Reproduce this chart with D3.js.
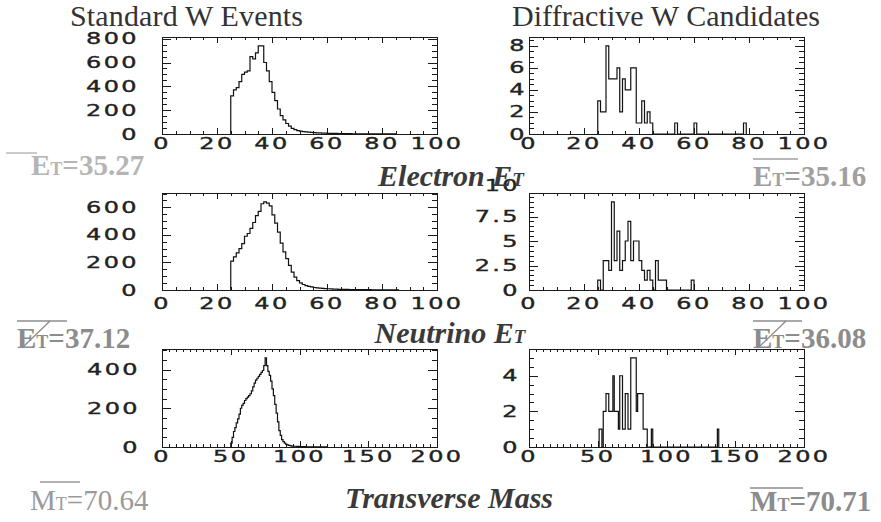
<!DOCTYPE html>
<html><head><meta charset="utf-8">
<script src="https://cdn.jsdelivr.net/npm/d3@7"></script>
<style>body{margin:0;background:#fff;}</style>
</head><body>
<svg id="c" width="881" height="522"></svg>
<script>
// ---------------- data ----------------
// Standard W events, electron ET, 1 GeV bins starting at 25 GeV
const stdElectronEtStart = 25;
const stdElectronEt = [320,370,390,440,500,520,530,650,630,680,740,740,600,530,440,350,280,210,155,118,
  88,66,48,36,28,24,20,17,15,13,11,10,9,8,7,6,6,5,5,4,4,3,3,3,2,2,2,2,1,1,1,1,1,1,1,1,1,1,1,1];
// Standard W events, neutrino ET, 1 GeV bins starting at 25 GeV
const stdNeutrinoEtStart = 25;
const stdNeutrinoEt = [210,240,270,300,337,390,410,447,490,540,570,626,640,630,610,545,485,420,340,276,
  227,178,130,93,68,52,40,32,26,22,18,16,14,12,10,9,8,7,6,5,5,4,4,3,3,3,2,2,2,2,2,1,1,1,1,1,1,1,1,1,1];
// Standard W events, transverse mass, 1 GeV bins starting at 50 GeV
const stdMassStart = 50;
const stdMass = [20,50,80,100,125,145,170,200,215,225,240,250,258,265,275,290,310,330,345,355,
  365,375,385,395,420,460,420,390,370,340,300,265,220,175,130,85,60,38,28,20,14,11,8,7,5,5,4,4,3,3,
  2,2,2,2,2,1,1,1,1,1,1,1,1,1,1,1,1,1,1,1];
// Diffractive W candidates: [bin low edge, count]
const diffElectronEt = [[25,3],[26,2],[27,2],[28,8],[29,5],[30,5],[31,5],[32,6],[33,2],[34,5],[35,4],[36,4],
  [37,6],[38,6],[39,1],[40,1],[41,3],[42,1],[43,2],[44,1],[53,1],[60,1],[78,1]];
const diffNeutrinoEt = [[25,1],[27,3],[28,3],[29,2],[30,9],[31,3],[32,6],[33,2],[34,3],[35,5],[36,7],[37,3],
  [38,5],[39,5],[40,3],[41,2],[42,1],[43,2],[44,1],[46,3],[47,1],[48,1],[49,1],[59,1]];
const diffMass = [[51,1],[52,1],[54,2],[55,2],[56,3],[57,3],[58,2],[59,2],[60,2],[61,4],[62,2],[63,2],[64,2],
  [65,1],[66,4],[67,4],[68,1],[69,1],[70,3],[71,3],[72,1],[73,1],[74,5],[75,5],[76,5],[77,5],[78,2],
  [79,3],[80,3],[81,3],[82,3],[83,1],[84,1],[85,1],[89,1],[137,1]];
// tick labels
const etXLabels = [0,20,40,60,80,100];
const massXLabels = [0,50,100,150,200];
const stdElectronYLabels = [0,200,400,600,800];
const stdNeutrinoYLabels = [0,200,400,600];
const stdMassYLabels = [0,200,400];
const diffElectronYLabels = ["0","2","4","6","8"];
const diffNeutrinoYLabels = ["0","2.5","5","7.5","10"];
const diffMassYLabels = ["0","2","4"];
// texts
const columnTitles = ["Standard W Events","Diffractive W Candidates"];
const rowTitles = ["Electron ","Neutrino ","Transverse Mass"];
const meanValues = [["35.27","35.16"],["37.12","36.08"],["70.64","70.71"]];

// ---------------- helpers ----------------
function denseBins(start, counts){ return counts.map((n,i)=>({x0:start+i, x1:start+i+1, n})); }
function pairBins(pairs){
  const lo = pairs[0][0], hi = pairs[pairs.length-1][0];
  const m = new Map(pairs);
  return d3.range(lo, hi+1).map(b=>({x0:b, x1:b+1, n:m.get(b)||0}));
}

const svg = d3.select("#c");
const serif = "'Liberation Serif','Times New Roman',serif";
const colX = [[162,437],[529,804]];
const rowY = [[37,134],[193,290],[349,447]];
const xLabelOff = [15,19,15];
const yLabelRight = [[139,139,140],[527,520,520]];

const panels = [
  {r:0,c:0,bins:denseBins(stdElectronEtStart,stdElectronEt),xMax:100,xMaj:20,xMin:5,yMaj:200,yMin:50,xl:etXLabels,yl:stdElectronYLabels},
  {r:0,c:1,bins:pairBins(diffElectronEt),xMax:100,xMaj:20,xMin:5,yMaj:2,yMin:0.5,xl:etXLabels,yl:diffElectronYLabels},
  {r:1,c:0,bins:denseBins(stdNeutrinoEtStart,stdNeutrinoEt),xMax:100,xMaj:20,xMin:5,yMaj:200,yMin:50,xl:etXLabels,yl:stdNeutrinoYLabels},
  {r:1,c:1,bins:pairBins(diffNeutrinoEt),xMax:100,xMaj:20,xMin:5,yMaj:2.5,yMin:0.5,xl:etXLabels,yl:diffNeutrinoYLabels},
  {r:2,c:0,bins:denseBins(stdMassStart,stdMass),xMax:200,xMaj:50,xMin:5,yMaj:200,yMin:50,xl:massXLabels,yl:stdMassYLabels},
  {r:2,c:1,bins:pairBins(diffMass),xMax:200,xMaj:50,xMin:5,yMaj:2,yMin:0.5,xl:massXLabels,yl:diffMassYLabels}
];

const ink = "#1a1a1a";
function tickLabel(g, txt, tx, ty, anchor){
  g.append("text").attr("transform",`translate(${tx},${ty}) scale(1.6,1)`)
    .attr("text-anchor",anchor).attr("font-family","'DejaVu Sans',sans-serif").attr("font-size",15)
    .attr("letter-spacing",1.5).attr("fill","#222").attr("stroke","#222").attr("stroke-width",0.35)
    .text(txt);
}
panels.forEach(p=>{
  const [x0,x1] = colX[p.c], [yt,yb] = rowY[p.r];
  const yMax = 1.1*d3.max(p.bins, d=>d.n);
  const x = d3.scaleLinear().domain([0,p.xMax]).range([x0,x1]);
  const y = d3.scaleLinear().domain([0,yMax]).range([yb,yt]);
  const g = svg.append("g");
  // frame
  g.append("rect").attr("x",x0+0.5).attr("y",yt+0.5).attr("width",x1-x0).attr("height",yb-yt)
    .attr("fill","none").attr("stroke",ink).attr("stroke-width",1).attr("shape-rendering","crispEdges");
  // x ticks (top & bottom, pointing inward)
  d3.range(0, p.xMax+1e-6, p.xMin).forEach(v=>{
    const maj = Math.abs(v/p.xMaj - Math.round(v/p.xMaj))<1e-6;
    const L = maj?6:3, X = Math.round(x(v))+0.5;
    g.append("line").attr("x1",X).attr("x2",X).attr("y1",yt).attr("y2",yt+L).attr("stroke",ink).attr("shape-rendering","crispEdges");
    g.append("line").attr("x1",X).attr("x2",X).attr("y1",yb).attr("y2",yb-L).attr("stroke",ink).attr("shape-rendering","crispEdges");
  });
  // y ticks (left & right, pointing inward)
  d3.range(0, yMax+1e-6, p.yMin).forEach(v=>{
    const maj = Math.abs(v/p.yMaj - Math.round(v/p.yMaj))<1e-6;
    const L = maj?9:5, Y = Math.round(y(v))+0.5;
    g.append("line").attr("x1",x0).attr("x2",x0+L).attr("y1",Y).attr("y2",Y).attr("stroke",ink).attr("shape-rendering","crispEdges");
    g.append("line").attr("x1",x1).attr("x2",x1-L).attr("y1",Y).attr("y2",Y).attr("stroke",ink).attr("shape-rendering","crispEdges");
  });
  // histogram outline
  const pts = [[p.bins[0].x0,0]];
  p.bins.forEach(b=>{pts.push([b.x0,b.n]);pts.push([b.x1,b.n]);});
  pts.push([p.bins[p.bins.length-1].x1,0]);
  g.append("path").attr("d", d3.line().x(d=>x(d[0])).y(d=>y(d[1]))(pts))
    .attr("fill","none").attr("stroke","#111").attr("stroke-width",1.2);
  // labels
  p.xl.forEach(v=> tickLabel(g, v, x(v), yb+xLabelOff[p.r], "middle"));
  const rx = yLabelRight[p.c][p.r];
  p.yl.forEach(v=>{
    let ty = y(+v)+5.5;
    if (+v > yMax) ty -= 7;   // label beyond the frame top sits a little higher
    tickLabel(g, v, rx, ty, "end");
  });
});

// column titles
svg.append("text").attr("x",70).attr("y",26).attr("font-family",serif).attr("font-size",30)
  .attr("fill","#333").attr("textLength",233).text(columnTitles[0]);
svg.append("text").attr("x",512).attr("y",26).attr("font-family",serif).attr("font-size",30)
  .attr("fill","#333").attr("textLength",308).text(columnTitles[1]);

// row titles (bold italic)
function rowTitle(txt, sub, cx, base){
  const t = svg.append("text").attr("x",cx).attr("y",base).attr("text-anchor","middle")
    .attr("font-family",serif).attr("font-weight","bold").attr("font-style","italic")
    .attr("font-size",30).attr("fill","#3a3a3a");
  t.append("tspan").text(txt);
  if(sub){ t.append("tspan").text("E"); t.append("tspan").attr("font-size",19).text("T"); }
}
rowTitle(rowTitles[0], true, 451, 186);
rowTitle(rowTitles[1], true, 450, 343);
rowTitle(rowTitles[2], false, 449, 508);

// mean labels
function meanLabel(letter, val, x, base, col, bold, ol, slash){
  const t = svg.append("text").attr("x",x).attr("y",base).attr("font-family",serif)
    .attr("font-weight",bold?"bold":"normal").attr("font-size",29).attr("fill",col);
  t.append("tspan").text(letter);
  t.append("tspan").attr("font-size",18).text("T");
  t.append("tspan").text("="+val);
  svg.append("line").attr("x1",ol[0]).attr("x2",ol[1]).attr("y1",ol[2]).attr("y2",ol[2])
    .attr("stroke",col).attr("stroke-width",1.4);
  if(slash) svg.append("line").attr("x1",slash[0]).attr("y1",slash[1]).attr("x2",slash[2]).attr("y2",slash[3])
    .attr("stroke",col).attr("stroke-width",1.3);
}
meanLabel("E", meanValues[0][0], 31, 175, "#b5b5b5", true, [6,37,153]);
meanLabel("E", meanValues[0][1], 753, 186, "#a0a0a0", true, [753,798,159]);
meanLabel("E", meanValues[1][0], 17, 348, "#8c8c8c", true, [17,67,321], [22,348,50,321]);
meanLabel("E", meanValues[1][1], 753, 348, "#8c8c8c", true, [753,802,321], [758,348,786,321]);
meanLabel("M", meanValues[2][0], 30, 510, "#9a9a9a", false, [40,80,482]);
meanLabel("M", meanValues[2][1], 750, 511, "#8c8c8c", true, [750,803,488]);
</script>
</body></html>
